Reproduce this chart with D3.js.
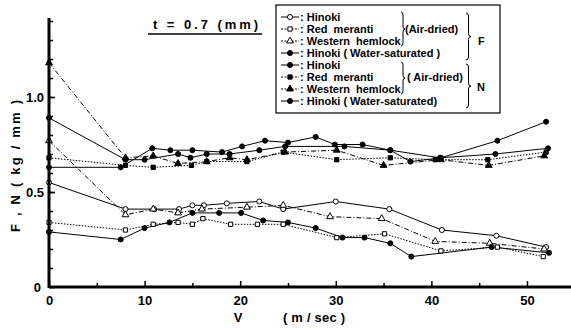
<!DOCTYPE html>
<html>
<head>
<meta charset="utf-8">
<script src="https://cdn.jsdelivr.net/npm/d3@7"></script>
<style>
  html, body { margin: 0; padding: 0; background: #fff; }
  svg { display: block; font-family: "Liberation Sans", Arial, sans-serif; font-weight: bold; }
</style>
</head>
<body>
<svg id="chart" width="571" height="329"></svg>
<script>
// F series (lower group)
const fHinokiV = [0, 8, 11, 13.6, 15, 16.2, 18.6, 22, 24.5, 30, 35.6, 41.1, 46.8, 52];
const fHinoki = [0.55, 0.41, 0.41, 0.41, 0.43, 0.43, 0.44, 0.45, 0.41, 0.45, 0.41, 0.30, 0.27, 0.21];
const fMerantiV = [0, 8, 10.9, 13.5, 15, 16.1, 19, 21.8, 24.5, 30.1, 35.1, 41, 46.9, 51.7];
const fMeranti = [0.34, 0.30, 0.33, 0.34, 0.33, 0.36, 0.33, 0.33, 0.33, 0.26, 0.28, 0.19, 0.21, 0.16];
const fHemlockV = [0, 8, 10.9, 13.5, 16, 20.7, 24.5, 29.4, 34.8, 40.4, 46.1, 51.8];
const fHemlock = [0.77, 0.38, 0.41, 0.39, 0.41, 0.42, 0.43, 0.37, 0.36, 0.24, 0.23, 0.20];
const fWetV = [0, 7.5, 10, 12.6, 15, 17.8, 20.1, 22.4, 25, 27.9, 30.7, 33, 35.7, 37.9, 46.3, 52.3];
const fWet = [0.29, 0.25, 0.31, 0.34, 0.39, 0.39, 0.39, 0.35, 0.34, 0.31, 0.26, 0.26, 0.23, 0.16, 0.21, 0.18];

// N series (upper group)
const nHinokiV = [0, 8, 10, 13.5, 14.8, 16.5, 18.9, 22, 24.7, 30.9, 35.7, 40.9, 46.7, 52.2];
const nHinoki = [0.89, 0.67, 0.67, 0.70, 0.68, 0.70, 0.70, 0.72, 0.74, 0.74, 0.72, 0.68, 0.70, 0.73];
const nMerantiV = [0, 8, 10.9, 14.9, 16.5, 20.7, 24.5, 30.1, 35.7, 40.4, 45.9, 52];
const nMeranti = [0.68, 0.64, 0.63, 0.64, 0.66, 0.66, 0.71, 0.67, 0.68, 0.67, 0.67, 0.71];
const nHemlockV = [0, 8, 10.9, 13.5, 16.5, 18.9, 20.7, 24.7, 30.1, 35, 41, 46, 51.8];
const nHemlock = [1.18, 0.68, 0.69, 0.65, 0.66, 0.68, 0.67, 0.71, 0.72, 0.64, 0.67, 0.64, 0.69];
const nWetV = [0, 7.5, 10.8, 12.7, 15, 18.1, 20.2, 22.6, 25, 27.9, 29.9, 32.8, 35.7, 37.8, 41, 46.9, 52];
const nWet = [0.63, 0.63, 0.73, 0.72, 0.72, 0.71, 0.74, 0.77, 0.76, 0.79, 0.75, 0.75, 0.72, 0.66, 0.68, 0.77, 0.87];

const xMajor = [0, 10, 20, 30, 40, 50];
const xMinor = [5, 15, 25, 35, 45];
const yLabels = [0, 0.5, 1.0];
const yMinor = d3.range(1, 15).map((i) => i / 10);

const legendNames = ["Hinoki", "Red  meranti", "Western  hemlock", "Hinoki ( Water-saturated )",
  "Hinoki", "Red  meranti", "Western  hemlock", "Hinoki ( Water-saturated)"];

const series = [
  { v: fHinokiV, y: fHinoki, mark: "circle", fill: false, dash: null },
  { v: fMerantiV, y: fMeranti, mark: "square", fill: false, dash: "1.5,1.5" },
  { v: fHemlockV, y: fHemlock, mark: "triangle", fill: false, dash: "5,2,1,2" },
  { v: fWetV, y: fWet, mark: "circle", fill: true, dash: null },
  { v: nHinokiV, y: nHinoki, mark: "circle", fill: true, dash: null },
  { v: nMerantiV, y: nMeranti, mark: "square", fill: true, dash: "1.5,1.5" },
  { v: nHemlockV, y: nHemlock, mark: "triangle", fill: true, dash: "5,2,1,2" },
  { v: nWetV, y: nWet, mark: "circle", fill: true, dash: null },
];

const svg = d3.select("#chart");
const x = d3.scaleLinear().domain([0, 54.5]).range([49, 570]);
const y = d3.scaleLinear().domain([0, 1.4]).range([287, 21]);

const symbolType = { circle: d3.symbolCircle, square: d3.symbolSquare, triangle: d3.symbolTriangle };
const symbolSize = { circle: 20, square: 18, triangle: 20 };

function drawMarker(g, s, cx, cy) {
  g.append("path")
    .attr("d", d3.symbol().type(symbolType[s.mark]).size(symbolSize[s.mark])())
    .attr("transform", `translate(${cx},${cy})`)
    .attr("fill", s.fill ? "#000" : "#fff")
    .attr("stroke", "#000")
    .attr("stroke-width", 1);
}

// lines + markers
const line = d3.line().x((d) => x(d[0])).y((d) => y(d[1]));
const plot = svg.append("g");
for (const s of series) {
  const pts = s.v.map((v, i) => [v, s.y[i]]);
  plot.append("path")
    .attr("d", line(pts))
    .attr("fill", "none")
    .attr("stroke", "#000")
    .attr("stroke-width", 1)
    .attr("stroke-dasharray", s.dash);
}
for (const s of series) {
  s.v.forEach((v, i) => drawMarker(plot, s, x(v), y(s.y[i])));
}

// axes
const xAxis = svg.append("g").attr("transform", `translate(0,${y(0)})`)
  .call(d3.axisBottom(x).tickValues(xMajor).tickSize(-6).tickPadding(9).tickFormat(d3.format("d")));
svg.append("g").attr("transform", `translate(0,${y(0)})`)
  .call(d3.axisBottom(x).tickValues(xMinor).tickSize(-4).tickFormat(""))
  .call((g) => g.select(".domain").remove());
const yAxis = svg.append("g").attr("transform", `translate(${x(0)},0)`)
  .call(d3.axisLeft(y).tickValues(yLabels).tickSize(-6).tickPadding(5).tickFormat((d) => d === 0 ? "0" : d3.format(".1f")(d)));
svg.append("g").attr("transform", `translate(${x(0)},0)`)
  .call(d3.axisLeft(y).tickValues(yMinor).tickSize(-4).tickFormat(""))
  .call((g) => g.select(".domain").remove());

svg.selectAll(".domain").attr("stroke-width", 3).attr("d", null);
xAxis.select(".domain").attr("d", `M${x(0)},0H571`);
yAxis.select(".domain").attr("d", `M0,${y(0) + 1}V${y(1.4) - 3}`);
svg.selectAll(".tick line").attr("stroke-width", 1.5);
svg.selectAll(".tick text").attr("font-size", 13).attr("font-weight", "bold")
  .attr("font-family", "Liberation Sans, Arial, sans-serif").attr("fill", "#000");
yAxis.selectAll(".tick text").filter((d) => d === 0).attr("dx", -3);

// axis titles
svg.append("text").attr("x", 238).attr("y", 322).attr("text-anchor", "middle")
  .attr("font-size", 13).text("V");
svg.append("text").attr("x", 314).attr("y", 322).attr("text-anchor", "middle")
  .attr("font-size", 13).attr("textLength", 62).attr("lengthAdjust", "spacing").text("( m / sec )");
svg.append("text").attr("transform", "translate(20,166) rotate(-90)").attr("text-anchor", "middle")
  .attr("font-size", 13).attr("textLength", 132).attr("lengthAdjust", "spacing").text("F , N ( kg / mm )");

// title
svg.append("text").attr("x", 153).attr("y", 29).attr("font-size", 13)
  .attr("textLength", 105).attr("lengthAdjust", "spacing").text("t = 0.7 (mm)");
svg.append("line").attr("x1", 148).attr("x2", 262).attr("y1", 34).attr("y2", 34)
  .attr("stroke", "#000").attr("stroke-width", 1.5);

// legend
const lg = svg.append("g");
lg.append("rect").attr("x", 276).attr("y", 5).attr("width", 224).attr("height", 108)
  .attr("fill", "#fff").attr("stroke", "#000").attr("stroke-width", 1.2);
const rowY = d3.scalePoint().domain(d3.range(8)).range([17, 101]);
series.forEach((s, i) => {
  const ry = rowY(i);
  lg.append("line").attr("x1", 281).attr("x2", 299).attr("y1", ry).attr("y2", ry)
    .attr("stroke", "#000").attr("stroke-width", 1).attr("stroke-dasharray", s.dash ? "2,1.5" : null);
  drawMarker(lg, s, 290, ry);
  lg.append("text").attr("x", 300).attr("y", ry + 4).attr("font-size", 11)
    .attr("xml:space", "preserve").text(": " + legendNames[i]);
});

function brace(x0, y1, y2, w) {
  const ym = (y1 + y2) / 2;
  const p = d3.path();
  p.moveTo(x0, y1);
  p.quadraticCurveTo(x0 + w, y1, x0 + w, y1 + 3);
  p.lineTo(x0 + w, ym - 3);
  p.quadraticCurveTo(x0 + w, ym, x0 + w * 2, ym);
  p.quadraticCurveTo(x0 + w, ym, x0 + w, ym + 3);
  p.lineTo(x0 + w, y2 - 3);
  p.quadraticCurveTo(x0 + w, y2, x0, y2);
  lg.append("path").attr("d", p.toString()).attr("fill", "none").attr("stroke", "#000").attr("stroke-width", 1);
}
brace(401, 12, 46, 2);
brace(401, 62, 94, 2);
brace(466, 13, 60, 2.5);
brace(466, 64, 108, 2.5);
lg.append("text").attr("x", 405).attr("y", 33).attr("font-size", 11).text("(Air-dried)");
lg.append("text").attr("x", 407).attr("y", 81).attr("font-size", 11).text("( Air-dried)");
lg.append("text").attr("x", 478).attr("y", 45).attr("font-size", 11).text("F");
lg.append("text").attr("x", 477).attr("y", 91).attr("font-size", 11).text("N");
</script>
</body>
</html>
